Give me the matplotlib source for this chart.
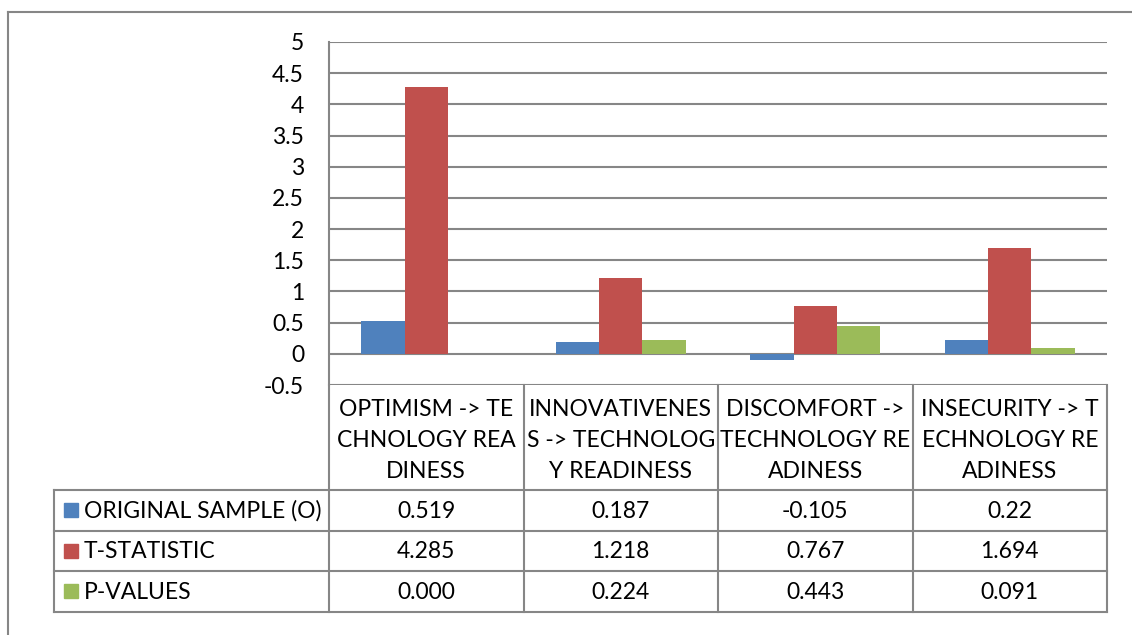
import matplotlib
matplotlib.use('Agg')
import matplotlib.pyplot as plt
from matplotlib.lines import Line2D
from matplotlib.patches import Rectangle

categories = ['OPTIMISM -> TE\nCHNOLOGY REA\nDINESS',
              'INNOVATIVENES\nS -> TECHNOLOG\nY READINESS',
              'DISCOMFORT ->\nTECHNOLOGY RE\nADINESS',
              'INSECURITY -> T\nECHNOLOGY RE\nADINESS']
series_names = ['ORIGINAL SAMPLE (O)', 'T-STATISTIC', 'P-VALUES']
original_sample = [0.519, 0.187, -0.105, 0.22]
t_statistic = [4.285, 1.218, 0.767, 1.694]
p_values = [0.000, 0.224, 0.443, 0.091]
cell_text = [['0.519', '0.187', '-0.105', '0.22'],
             ['4.285', '1.218', '0.767', '1.694'],
             ['0.000', '0.224', '0.443', '0.091']]
yticks = [-0.5, 0, 0.5, 1, 1.5, 2, 2.5, 3, 3.5, 4, 4.5, 5]

colors = ['#4F81BD', '#C0504D', '#9BBB59']
GRID = '#868686'
FONT = 'Lato'
FS = 16.5

W, H = 1132, 635
fig = plt.figure(figsize=(W / 100, H / 100), dpi=100)

# plot area in pixels
PL, PR, PT, PB = 329, 1107, 42, 385
ax = fig.add_axes([PL / W, 1 - PB / H, (PR - PL) / W, (PB - PT) / H])
ax.set_xlim(0, len(categories))
ax.set_ylim(-0.5, 5)
bw = 1 / 4.5
for k, vals in enumerate([original_sample, t_statistic, p_values]):
    xs = [i + 0.5 + (k - 1) * bw for i in range(len(vals))]
    ax.bar(xs, vals, width=bw, color=colors[k], zorder=3)
ax.set_yticks(yticks)
ax.set_yticklabels([('%g' % t) for t in yticks], fontsize=FS, family=FONT)
ax.tick_params(axis='y', length=0, pad=18)
ax.set_xticks([])
for t in yticks:
    ax.axhline(t, color=GRID, lw=1.5, zorder=1)
for s in ['top', 'right', 'bottom']:
    ax.spines[s].set_visible(False)
ax.spines['left'].set_color(GRID)
ax.spines['left'].set_linewidth(1.5)

# overlay in pixel coordinates for the data table
ov = fig.add_axes([0, 0, 1, 1], zorder=5)
ov.set_xlim(0, W)
ov.set_ylim(H, 0)
ov.axis('off')
ov.patch.set_alpha(0)

def line(x0, y0, x1, y1):
    ov.add_line(Line2D([x0, x1], [y0, y1], color=GRID, lw=1.5))

# outer chart border (only top/left visible)
line(8, 12, W + 5, 12)
line(8, 12, 8, H + 5)

ncat = len(categories)
colw = (PR - PL) / ncat
col_x = [PL + i * colw for i in range(ncat + 1)]
TL = 54
head_bot = 490
row_h = 40.5
row_y = [head_bot + r * row_h for r in range(len(series_names) + 1)]

for x in col_x:
    line(x, PB, x, row_y[-1])
line(TL, head_bot, TL, row_y[-1])
for y in row_y:
    line(TL, y, PR, y)

for i, lab in enumerate(categories):
    ov.text(col_x[i] + colw / 2, (PB + head_bot) / 2 + 3, lab, ha='center', va='center',
            fontsize=FS, family=FONT, linespacing=1.6)

for r, name in enumerate(series_names):
    yc = row_y[r] + row_h / 2
    ov.add_patch(Rectangle((64, yc - 7), 14, 14, color=colors[r]))
    ov.text(84, yc + 1, name, ha='left', va='center', fontsize=FS, family=FONT)
    for i in range(ncat):
        ov.text(col_x[i] + colw / 2, yc + 1, cell_text[r][i], ha='center', va='center',
                fontsize=FS, family=FONT)

fig.savefig('out.png', dpi=100, facecolor='white')
